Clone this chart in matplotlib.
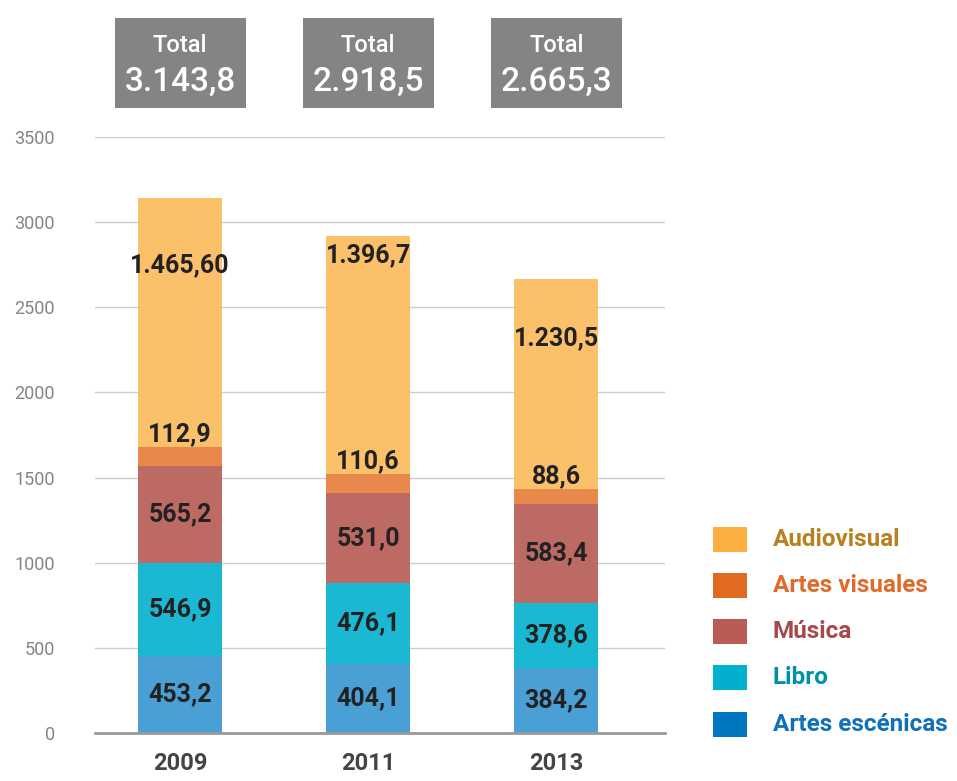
import numpy as np
import matplotlib
matplotlib.use("Agg")
import matplotlib.pyplot as plt
import matplotlib.patches as mpatches

plt.rcParams["font.family"] = ["Roboto", "DejaVu Sans"]

# data (millions)
years = ["2009", "2011", "2013"]
sectors = ["Artes escénicas", "Libro", "Música", "Artes visuales", "Audiovisual"]
escenicas = [453.2, 404.1, 384.2]
libro = [546.9, 476.1, 378.6]
musica = [565.2, 531.0, 583.4]
visuales = [112.9, 110.6, 88.6]
audiovisual = [1465.6, 1396.7, 1230.5]
label_txt = {
    "Artes escénicas": ["453,2", "404,1", "384,2"],
    "Libro": ["546,9", "476,1", "378,6"],
    "Música": ["565,2", "531,0", "583,4"],
    "Artes visuales": ["112,9", "110,6", "88,6"],
    "Audiovisual": ["1.465,60", "1.396,7", "1.230,5"],
}
totals_txt = ["3.143,8", "2.918,5", "2.665,3"]
# where the audiovisual label sits, as share of the segment height
audio_label_frac = [0.73, 0.92, 0.72]

# legend swatches
COLORS = {
    "Artes escénicas": "#0075C0",
    "Libro": "#00B0CE",
    "Música": "#B85C55",
    "Artes visuales": "#E06A20",
    "Audiovisual": "#FBB040",
}
# bars are a lighter tint of the same hues
BAR_COLORS = {
    "Artes escénicas": "#4A9FD5",
    "Libro": "#1BB8D4",
    "Música": "#BD6A64",
    "Artes visuales": "#E8894B",
    "Audiovisual": "#FAC06A",
}
TEXT_COLORS = {
    "Artes escénicas": "#1070B8",
    "Libro": "#0090A8",
    "Música": "#A8484A",
    "Artes visuales": "#E06A2A",
    "Audiovisual": "#B8801E",
}

series = {
    "Artes escénicas": escenicas,
    "Libro": libro,
    "Música": musica,
    "Artes visuales": visuales,
    "Audiovisual": audiovisual,
}

fig = plt.figure(figsize=(9.57, 7.81), dpi=100, facecolor="white")
ax = fig.add_axes([0.0993, 0.0615, 0.596, 0.7631])

x = np.arange(len(years))
bottom = np.zeros(len(years))
for name in sectors:
    vals = np.array(series[name])
    ax.bar(x, vals, width=0.447, bottom=bottom, color=BAR_COLORS[name],
           linewidth=0, zorder=3)
    for i in range(len(years)):
        if name == "Audiovisual":
            yl = bottom[i] + vals[i] * audio_label_frac[i]
        elif name == "Artes visuales":
            yl = bottom[i] + vals[i] + 75
        else:
            yl = bottom[i] + vals[i] / 2
        ax.text(x[i], yl, label_txt[name][i], ha="center", va="center",
                fontsize=18, fontweight="bold", color="#222222", zorder=5)
    bottom += vals

ax.set_xlim(-0.452, 2.58)
ax.set_ylim(0, 3500)
ax.set_yticks(np.arange(0, 3501, 500))
ax.set_xticks(x)
ax.set_xticklabels(years, fontsize=17, fontweight="bold", color="#444444")
ax.tick_params(axis="y", length=0, pad=29, labelsize=13, labelcolor="#858585")
ax.tick_params(axis="x", length=0, pad=14)

ax.grid(axis="y", color="#CCCCCC", linewidth=1, zorder=0)
ax.set_axisbelow(True)
for s in ["top", "right", "left"]:
    ax.spines[s].set_visible(False)
ax.spines["bottom"].set_color("#999999")
ax.spines["bottom"].set_linewidth(2)
ax.spines["bottom"].set_zorder(4)

# total boxes above the bars
for i, t in enumerate(totals_txt):
    xc = ax.transData.transform((x[i], 0))[0] / fig.bbox.width
    fig.patches.append(mpatches.Rectangle((xc - 0.0685, 1 - 108 / 781), 0.137, 90 / 781,
                                          transform=fig.transFigure,
                                          facecolor="#858383", edgecolor="none"))
    fig.text(xc, 1 - 45 / 781, "Total", ha="center", va="center",
             fontsize=17, fontweight="medium", color="white")
    fig.text(xc, 1 - 82 / 781, t, ha="center", va="center",
             fontsize=24, fontweight="medium", color="white")

# legend
legend_order = ["Audiovisual", "Artes visuales", "Música", "Libro", "Artes escénicas"]
for k, name in enumerate(legend_order):
    yc = 539 + k * 46.3
    fig.patches.append(mpatches.Rectangle((713 / 957, 1 - (yc + 12.5) / 781), 34 / 957, 25 / 781,
                                          transform=fig.transFigure,
                                          facecolor=COLORS[name], edgecolor="none"))
    fig.text(773 / 957, 1 - yc / 781, name, ha="left", va="center",
             fontsize=17.5, fontweight="bold", color=TEXT_COLORS[name])

fig.savefig("out.png", dpi=100, facecolor="white")
